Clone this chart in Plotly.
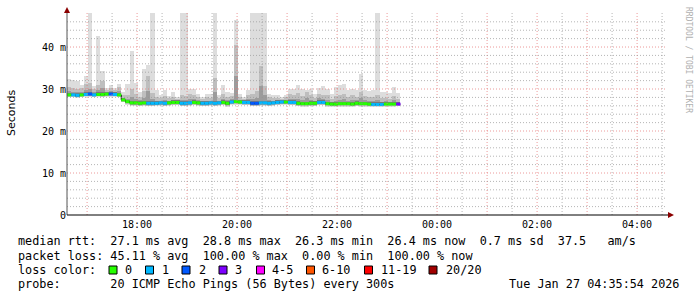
import plotly.graph_objects as go
import pandas as pd

# ---------------- data ----------------
step_start = "2026-01-26 16:36:00"
step_minutes = 5
graph_start = "2026-01-26 16:35:54"
graph_end = "2026-01-27 04:35:54"

median = [28.6,28.6,28.5,28.6,28.7,28.8,28.6,28.7,28.7,28.8,28.8,28.7,28.6,
          27.4,27.0,26.7,26.7,26.6,26.7,
          26.6,26.6,26.6,26.7,26.6,
          26.7,26.8,26.8,
          26.6,26.6,26.7,
          26.8,26.7,
          26.6,26.6,26.7,26.6,26.7,
          26.8,26.6,
          26.9,
          27.0,26.9,
          26.8,26.8,
          26.6,26.6,
          26.7,26.7,26.6,26.7,26.8,26.9,
          26.9,
          26.8,26.8,
          26.6,26.5,26.5,26.6,26.6,
          26.8,26.8,
          26.5,26.4,26.4,26.5,26.5,26.5,26.4,26.6,26.5,26.5,26.4,
          26.3,26.3,26.3,
          26.4,26.4,26.4,
          26.4]

loss = [0,1,1,0,1,2,1,0,0,0,2,1,0,
        0,0,0,0,0,0,
        1,1,1,1,1,
        0,0,0,
        1,1,1,
        0,0,
        1,1,1,1,1,
        0,0,
        1,
        0,0,
        1,1,
        2,2,
        1,1,1,1,1,1,
        0,
        1,1,
        0,0,0,0,0,
        1,1,
        0,0,0,0,0,0,0,0,0,0,0,
        1,1,1,
        0,0,0,
        3]

ping_max = [32.4,32.2,31.8,31.0,33.2,60,30.7,42.6,34.3,30.2,31.0,30.2,31.2,
            29.4,31.2,39.1,31.5,29.4,34.8,
            35.7,60,29.7,28.5,29.8,
            28.3,29.2,28.0,
            60,60,30.1,
            30.1,28.9,
            28.2,28.7,28.7,60,28.6,
            31.0,29.4,
            29.0,
            46.4,28.9,
            28.2,29.8,
            60,60,
            60,60,28.9,28.6,28.6,28.2,
            28.6,
            29.9,29.9,
            31.0,29.9,29.8,29.9,28.8,
            30.2,30.7,
            29.9,28.8,30.4,31.0,31.2,29.8,29.9,29.8,33.6,29.8,29.5,
            29.8,60,29.2,
            29.2,29.0,30.4,
            29.0]

ping_hi = [30.5,30.3,30.0,30.2,31.2,31.5,30.0,31.0,32.0,29.8,30.3,29.8,30.4,
           28.5,28.6,30.0,28.8,28.2,29.5,
           33.0,29.0,28.0,27.8,28.3,
           27.8,28.2,27.6,
           28.6,28.4,28.8,
           28.5,28.0,
           27.6,28.0,27.9,32.6,27.8,
           28.8,28.2,
           28.4,
           40.5,28.0,
           27.7,28.6,
           28.8,29.6,35.5,30.7,
           28.2,27.9,27.8,27.6,
           28.0,
           28.8,28.5,
           29.0,28.4,29.3,28.6,27.8,
           28.9,28.6,
           28.6,27.6,28.3,28.6,28.8,28.0,28.5,28.2,29.4,28.3,28.1,
           28.0,28.6,27.9,
           27.8,27.7,28.4,
           27.6]

ping_min = [28.0,28.0,27.9,28.0,28.1,28.1,28.0,28.1,28.0,28.1,28.2,28.1,28.0,
            26.8,26.3,26.0,26.0,25.9,26.0,
            25.9,25.9,26.0,26.0,25.9,
            26.0,26.1,26.1,
            25.9,25.9,26.0,
            26.1,26.0,
            25.9,25.9,26.0,25.9,26.0,
            26.1,25.8,
            26.2,
            26.3,26.2,
            26.1,26.1,
            25.9,25.9,
            26.0,26.0,25.9,26.0,26.1,26.2,
            26.2,
            26.1,26.1,
            25.9,25.8,25.8,25.9,25.9,
            26.1,26.1,
            25.8,25.7,25.7,25.8,25.8,25.8,25.7,25.9,25.8,25.8,25.7,
            25.7,25.7,25.7,
            25.8,25.8,25.8,
            25.9]

loss_labels = ["0", "1", "2", "3", "4-5", "6-10", "11-19", "20/20"]
loss_colors = ["#26ff00", "#00b8ff", "#0059ff", "#7e00ff", "#ff00ff", "#ff5500", "#ff0000", "#a10000"]

y_tick_vals = [0, 10, 20, 30, 40]
y_tick_text = ["0", "10 m", "20 m", "30 m", "40 m"]

stats_rtt = "median rtt:  27.1 ms avg  28.8 ms max  26.3 ms min  26.4 ms now  0.7 ms sd  37.5   am/s"
stats_loss = "packet loss: 45.11 % avg  100.00 % max  0.00 % min  100.00 % now"
probe_text = "probe:       20 ICMP Echo Pings (56 Bytes) every 300s"
stamp_text = "Tue Jan 27 04:35:54 2026"

# ---------------- geometry ----------------
W, H = 697, 297
L, R, T, B = 67, 30, 13, 82
PW, PH = W - L - R, H - T - B
Y_TOP = 48.1


def px(x):
    return (x - L) / PW


def py(y):
    return (H - B - y) / PH


def loss_bucket(n):
    if n <= 3:
        return n
    if n <= 5:
        return 4
    if n <= 10:
        return 5
    if n <= 19:
        return 6
    return 7


t0 = pd.Timestamp(step_start)
n = len(median)
step = pd.Timedelta(minutes=step_minutes)
starts = [t0 + step * i for i in range(n)]
ends = [s + step for s in starts]
centers = [s + step / 2 for s in starts]
bw = step_minutes * 60 * 1000

fig = go.Figure()

# smoke bands
fig.add_trace(go.Bar(x=centers, base=ping_min, y=[a - b for a, b in zip(ping_max, ping_min)],
                     width=bw, marker=dict(color="#dddddd", line_width=0), hoverinfo="skip"))
b2 = [m + 0.15 for m in ping_min]
fig.add_trace(go.Bar(x=centers, base=b2, y=[h - b for h, b in zip(ping_hi, b2)],
                     width=bw, marker=dict(color="#bebebe", line_width=0), hoverinfo="skip"))
b3 = [m + 0.3 for m in ping_min]
t3 = [md + 0.45 * (h - md) for md, h in zip(median, ping_hi)]
fig.add_trace(go.Bar(x=centers, base=b3, y=[t - b for t, b in zip(t3, b3)],
                     width=bw, marker=dict(color="#9c9c9c", line_width=0), hoverinfo="skip"))
b4 = [md - 0.3 for md in median]
fig.add_trace(go.Bar(x=centers, base=b4, y=[0.8] * n,
                     width=bw, marker=dict(color="#787878", line_width=0), hoverinfo="skip"))

# median step line (black connectors)
fig.add_trace(go.Scatter(x=starts + [ends[-1]], y=median + [median[-1]], mode="lines",
                         line=dict(color="#000000", width=1, shape="hv"), hoverinfo="skip"))
# coloured median segments by loss bucket
for k, col in enumerate(loss_colors):
    xs, ys = [], []
    for s, e, md, ls in zip(starts, ends, median, loss):
        if loss_bucket(ls) == k:
            xs += [s, e, None]
            ys += [md, md, None]
    if xs:
        fig.add_trace(go.Scatter(x=xs, y=ys, mode="lines", line=dict(color=col, width=3),
                                 hoverinfo="skip", connectgaps=False))

# ---------------- grid as shapes (drawn above the smoke like rrdtool) ----------------
shapes = []
gs = pd.Timestamp(graph_start)
ge = pd.Timestamp(graph_end)
MAJ = "rgba(230,120,120,0.75)"
MIN = "rgba(150,150,150,0.7)"
t = gs.ceil("30min")
while t < ge:
    major = t.minute == 0
    shapes.append(dict(type="line", xref="x", yref="paper", x0=t, x1=t, y0=0, y1=1,
                       line=dict(color=MAJ if major else MIN, width=1, dash="1px,2px"), layer="above"))
    t += pd.Timedelta(minutes=30)
for v in range(2, 48, 2):
    major = v % 10 == 0
    shapes.append(dict(type="line", xref="paper", yref="y", x0=0, x1=1, y0=v, y1=v,
                       line=dict(color=MAJ if major else MIN, width=1, dash="1px,2px"), layer="above"))

# axes lines + arrows
shapes.append(dict(type="line", xref="paper", yref="paper", x0=0, x1=0, y0=0, y1=py(10),
                   line=dict(color="#555555", width=1), layer="above"))
shapes.append(dict(type="line", xref="paper", yref="paper", x0=0, x1=px(671), y0=0, y1=0,
                   line=dict(color="#000000", width=1), layer="above"))
shapes.append(dict(type="path", xref="paper", yref="paper",
                   path=f"M {px(67)} {py(7)} L {px(64)} {py(13)} L {px(70)} {py(13)} Z",
                   fillcolor="#8b0000", line=dict(width=0), layer="above"))
shapes.append(dict(type="path", xref="paper", yref="paper",
                   path=f"M {px(674)} {py(215)} L {px(668)} {py(212)} L {px(668)} {py(218)} Z",
                   fillcolor="#8b0000", line=dict(width=0), layer="above"))

# loss colour squares
sq_x = [109, 145.5, 182, 219, 256.5, 306.5, 364.5, 429]
lab_x = [123, 160, 197, 233, 270, 320, 379, 444]
for sx, c in zip(sq_x, loss_colors):
    shapes.append(dict(type="rect", xref="paper", yref="paper",
                       x0=px(sx), x1=px(sx + 8), y0=py(274), y1=py(266),
                       fillcolor=c, line=dict(color="#000000", width=1)))

mono = "DejaVu Sans Mono"
FS = 11.8
ann = []


def text(x, y, s, anchor="left", size=FS, color="#000000", font=mono, angle=0):
    ann.append(dict(xref="paper", yref="paper", x=px(x), y=py(y), text=s.replace(" ", "\u00a0"),
                    showarrow=False, xanchor=anchor, yanchor="middle", textangle=angle,
                    font=dict(family=font, size=size, color=color)))


text(16, 241, stats_rtt)
text(16, 256, stats_loss)
text(16, 270, "loss color:")
for lx, lab in zip(lab_x, loss_labels):
    text(lx, 270, lab)
text(16, 284, probe_text)
text(681, 284, stamp_text, anchor="right")
text(11, 113, "Seconds", anchor="center", size=11, font="DejaVu Sans", angle=-90)
ann.append(dict(xref="paper", yref="paper", x=px(688), y=py(5), text="RRDTOOL / TOBI OETIKER".replace(" ", "\u00a0"),
                showarrow=False, xanchor="center", yanchor="top", textangle=90,
                font=dict(family=mono, size=8, color="#b0b0b0")))

hours = pd.date_range(gs.ceil("h"), ge, freq="h")
x_tick_text = [h.strftime("%H:%M") if h.hour % 2 == 0 else "" for h in hours]

fig.update_layout(
    width=W, height=H, autosize=False,
    margin=dict(l=L, r=R, t=T, b=B, pad=0),
    paper_bgcolor="#ffffff", plot_bgcolor="#ffffff",
    barmode="overlay", bargap=0, showlegend=False,
    shapes=shapes, annotations=ann,
    xaxis=dict(type="date", range=[gs, ge], tickvals=list(hours), ticktext=x_tick_text,
               showgrid=False, zeroline=False, showline=False, ticks="", ticklabelstandoff=2,
               tickfont=dict(family=mono, size=10, color="#000000"), fixedrange=True),
    yaxis=dict(range=[0, Y_TOP], tickvals=y_tick_vals, ticktext=y_tick_text,
               showgrid=False, zeroline=False, showline=False, ticks="",
               tickfont=dict(family=mono, size=10, color="#000000"), fixedrange=True),
)

fig.write_html("out.html")
